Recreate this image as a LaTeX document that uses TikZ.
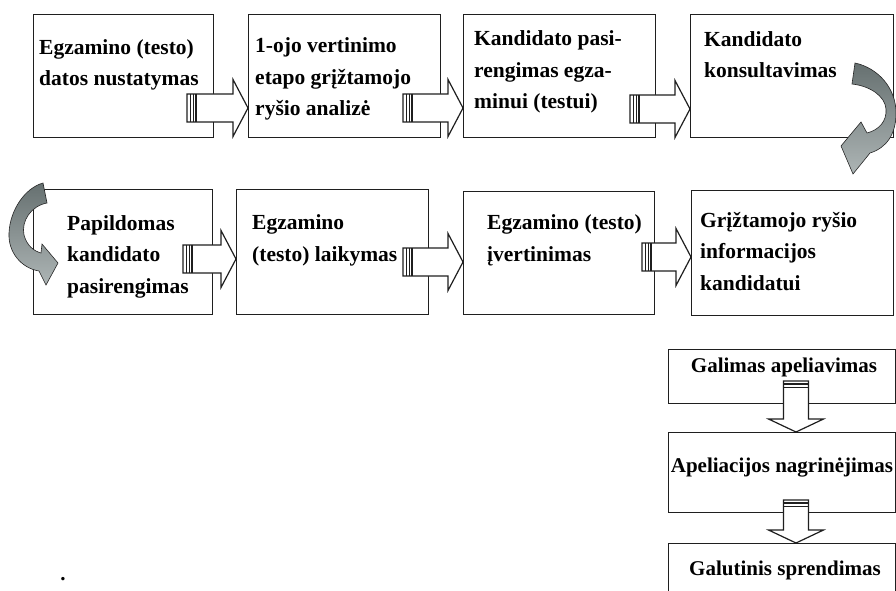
\documentclass[tikz,border=0pt]{standalone}
\usepackage{fontspec}
\setmainfont{Liberation Serif}
\usetikzlibrary{calc}
\definecolor{LineClr}{rgb}{0.12,0.12,0.12}
\definecolor{BendDark}{rgb}{0.40,0.44,0.44}
\definecolor{BendLight}{rgb}{0.68,0.71,0.71}

% hollow block arrow to the right: #1 = stub start, #2 = tip
\newcommand{\blockarrowR}[2]{%
  \draw[blockarr] let \p1=(#1), \p2=(#2) in
    (\x1,\y1+14pt) -- (\x2-15pt,\y1+14pt) -- (\x2-15pt,\y1+28.5pt) -- (\x2,\y1)
    -- (\x2-15pt,\y1-28.5pt) -- (\x2-15pt,\y1-14pt) -- (\x1,\y1-14pt) -- cycle;
  \draw[stubline] let \p1=(#1) in
    (\x1+3pt,\y1+14pt) -- (\x1+3pt,\y1-14pt)
    (\x1+6pt,\y1+14pt) -- (\x1+6pt,\y1-14pt);
  \draw[stubthick] let \p1=(#1) in
    (\x1+9pt,\y1+14pt) -- (\x1+9pt,\y1-14pt);
}
% hollow block arrow downwards: #1 = stub start, #2 = tip
\newcommand{\blockarrowD}[2]{%
  \draw[blockarr] let \p1=(#1), \p2=(#2) in
    (\x1-12.5pt,\y1) -- (\x1-12.5pt,\y2+13pt) -- (\x1-27.5pt,\y2+13pt) -- (\x1,\y2)
    -- (\x1+27.5pt,\y2+13pt) -- (\x1+12.5pt,\y2+13pt) -- (\x1+12.5pt,\y1) -- cycle;
  \draw[stubthick] let \p1=(#1) in
    (\x1-12.5pt,\y1-3pt) -- (\x1+12.5pt,\y1-3pt);
  \draw[stubline] let \p1=(#1) in
    (\x1-12.5pt,\y1-6pt) -- (\x1+12.5pt,\y1-6pt);
}

\begin{document}
\begin{tikzpicture}[x=1pt,y=-1pt,
  box/.style={draw=LineClr,line width=1.4pt,fill=white,inner sep=0pt,anchor=north west},
  txt/.style={anchor=base west,align=left,inner sep=0pt,font=\fontsize{21.5}{31.5}\selectfont\bfseries},
  mid/.style={anchor=base,inner sep=0pt,font=\fontsize{21}{31}\selectfont\bfseries},
  blockarr/.style={draw=LineClr,line width=1.2pt,fill=white,line join=miter},
  stubline/.style={draw=LineClr,line width=0.8pt},
  stubthick/.style={draw=LineClr,line width=1.6pt},
  curvearr/.style={draw=black!85,line width=0.6pt,top color=BendDark,bottom color=BendLight}]
\useasboundingbox (0,0) rectangle (896,591);
\clip (0,0) rectangle (896,591);

% first row
\node[box,minimum width=180pt,minimum height=123pt] (b1) at (33,14) {};
\node[box,minimum width=192pt,minimum height=123pt] (b2) at (248,14) {};
\node[box,minimum width=192pt,minimum height=123pt] (b3) at (463,14) {};
\node[box,minimum width=203pt,minimum height=123pt] (b4) at (690,14) {};
% second row
\node[box,minimum width=179pt,minimum height=125pt] (b5) at (33,189) {};
\node[box,minimum width=192pt,minimum height=125pt] (b6) at (236,189) {};
\node[box,minimum width=191pt,minimum height=123pt] (b7) at (463,191) {};
\node[box,minimum width=202pt,minimum height=125pt] (b8) at (691,190) {};
% appeal column
\node[box,minimum width=227pt,minimum height=54pt] (b9) at (668,349) {};
\node[box,minimum width=227pt,minimum height=80pt] (b10) at (668,432) {};
\node[box,minimum width=227pt,minimum height=70pt] (b11) at (668,543) {};

\coordinate (s12) at (187,108);
\coordinate (s23) at (403,108);
\coordinate (s34) at (630,109);
\coordinate (s56) at (183,259);
\coordinate (s67) at (403,262);
\coordinate (s78) at (642,257);
\coordinate (s910) at (796,381);
\coordinate (s1011) at (796,500);

\blockarrowR{s12}{b2.west|-s12}
\blockarrowR{s23}{b3.west|-s23}
\blockarrowR{s34}{b4.west|-s34}
\blockarrowR{s56}{b6.west|-s56}
\blockarrowR{s67}{b7.west|-s67}
\blockarrowR{s78}{b8.west|-s78}
\blockarrowD{s910}{b10.north-|s910}
\blockarrowD{s1011}{b11.north-|s1011}

% curved arrows
\path[curvearr] (855,63) .. controls (878,68) and (896,88) .. (896,113)
  .. controls (896,135) and (886,148) .. (870,153)
  -- (853,174) -- (841,146) -- (861,122) -- (867,133)
  .. controls (879,130) and (887,121) .. (886,109)
  .. controls (885,96) and (870,86) .. (852,84) -- cycle;
\path[curvearr] (43,183) -- (47,203)
  .. controls (31,206) and (21,221) .. (24,235)
  .. controls (27,246) and (34,251) .. (41,253)
  -- (42,244) -- (58,263) -- (46,285) -- (39,271)
  .. controls (21,268) and (8,252) .. (9,233)
  .. controls (10,210) and (25,188) .. (43,183) -- cycle;

% texts (base = last line)
\node[txt] (t1) at (39,86) {Egzamino (testo)\\datos nustatymas};
\node[txt] (t2) at (255,116) {1-ojo vertinimo\\etapo grįžtamojo\\ryšio analizė};
\node[txt] (t3) at (474,109) {Kandidato pasi-\\rengimas egza-\\minui (testui)};
\node[txt] (t4) at (704,78) {Kandidato\\konsultavimas};
\node[txt] (t5) at (67,293) {Papildomas\\kandidato\\pasirengimas};
\node[txt] (t6) at (252,261) {Egzamino\\(testo) laikymas};
\node[txt] (t7) at (487,261) {Egzamino (testo)\\įvertinimas};
\node[txt] (t8) at (700,290) {Grįžtamojo ryšio\\informacijos\\kandidatui};
\node[mid] (t9) at (784,372) {Galimas apeliavimas};
\node[mid] (t10) at (782,472) {Apeliacijos nagrinėjimas};
\node[mid] (t11) at (785,575) {Galutinis sprendimas};
\node[mid] (dot) at (63,580) {.};
\end{tikzpicture}
\end{document}
